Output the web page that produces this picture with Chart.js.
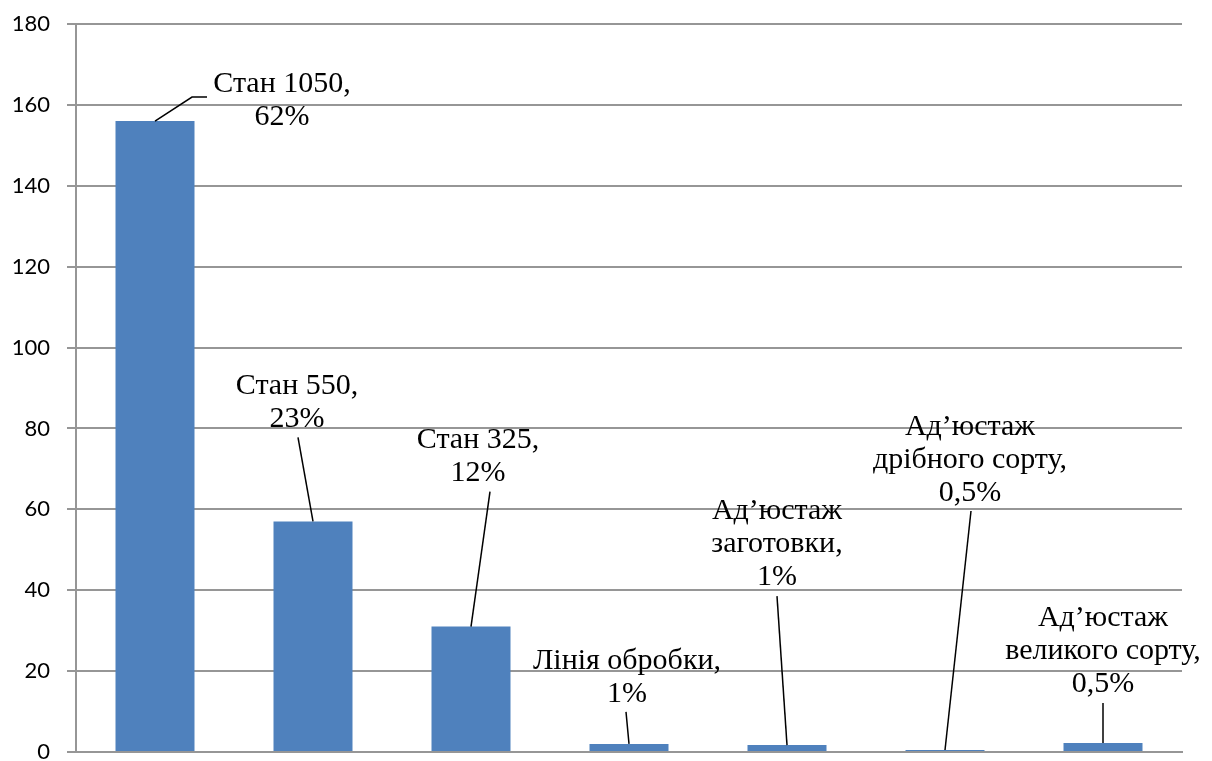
<!DOCTYPE html>
<html>
<head>
<meta charset="utf-8">
<script src="https://cdn.jsdelivr.net/npm/chart.js@4.4.1/dist/chart.umd.min.js"></script>
<style>
  html, body { margin: 0; padding: 0; background: #fff; }
  canvas { display: block; }
</style>
</head>
<body>
<canvas id="chart" width="1212" height="761"></canvas>
<script>
// Дані діаграми
const categories = ['Стан 1050', 'Стан 550', 'Стан 325', 'Лінія обробки', 'Ад’юстаж заготовки', 'Ад’юстаж дрібного сорту', 'Ад’юстаж великого сорту'];
const values = [156, 57, 31, 2, 1.7, 0.5, 2.2];
const shares = ['62%', '23%', '12%', '1%', '1%', '0,5%', '0,5%'];
const labelLines = [
    ['Стан 1050,'],
    ['Стан 550,'],
    ['Стан 325,'],
    ['Лінія обробки,'],
    ['Ад’юстаж', 'заготовки,'],
    ['Ад’юстаж', 'дрібного сорту,'],
    ['Ад’юстаж', 'великого сорту,']
];
const yTicks = [0, 20, 40, 60, 80, 100, 120, 140, 160, 180];

// Розміщення підписів відносно верху стовпця (пікселі)
const labelPos = [
    { dx: 127, dy: -4, leader: [[37, -24], [52, -24]] },
    { dx: -16, dy: -102, leader: [[-15, -84]] },
    { dx: 7, dy: -153, leader: [[19, -135]] },
    { dx: -2, dy: -50, leader: [[-3, -32]] },
    { dx: -10, dy: -168, leader: [[-10, -149]] },
    { dx: 25, dy: -257, leader: [[26, -239]] },
    { dx: 0, dy: -59, leader: [[0, -40]] }
];

const lineHeight = 33;

const labelPlugin = {
    id: 'leaderLabels',
    afterDatasetsDraw(chart) {
        const ctx = chart.ctx;
        const meta = chart.getDatasetMeta(0);
        ctx.save();
        meta.data.forEach((bar, i) => {
            const p = labelPos[i];
            const x0 = bar.x, y0 = bar.y;
            // лінія-виноска
            ctx.strokeStyle = '#000';
            ctx.lineWidth = 1.5;
            ctx.beginPath();
            ctx.moveTo(x0, y0);
            p.leader.forEach(pt => ctx.lineTo(x0 + pt[0], y0 + pt[1]));
            ctx.stroke();
            // текст
            const lines = labelLines[i].concat([shares[i]]);
            ctx.fillStyle = '#000';
            ctx.font = '30px "Liberation Serif", "Times New Roman", serif';
            ctx.textAlign = 'center';
            ctx.textBaseline = 'middle';
            const lastY = y0 + p.dy;
            lines.forEach((t, k) => {
                const ly = lastY - (lines.length - 1 - k) * lineHeight;
                ctx.fillText(t, x0 + p.dx, ly);
            });
        });
        ctx.restore();
    }
};

new Chart(document.getElementById('chart').getContext('2d'), {
    type: 'bar',
    data: {
        labels: categories,
        datasets: [{
            data: values,
            backgroundColor: '#4f81bd',
            borderWidth: 0,
            barPercentage: 0.5,
            categoryPercentage: 1.0
        }]
    },
    options: {
        responsive: false,
        animation: false,
        layout: { padding: { top: 24, right: 30, bottom: 9, left: 0 } },
        plugins: {
            legend: { display: false },
            tooltip: { enabled: false }
        },
        scales: {
            x: {
                ticks: { display: false },
                grid: { display: false },
                border: { display: true, color: '#969696', width: 2 },
                afterFit(scale) {
                    scale.height = 0;
                }
            },
            y: {
                min: 0,
                max: 180,
                afterBuildTicks(scale) {
                    scale.ticks = yTicks.map(v => ({ value: v }));
                },
                afterFit(scale) {
                    scale.width = 76;
                    scale.paddingTop = 0;
                    scale.paddingBottom = 0;
                },
                ticks: {
                    padding: 17,
                    color: '#000',
                    font: { family: 'Lato, "Open Sans", sans-serif', size: 22 }
                },
                grid: { color: '#969696', lineWidth: 2, tickLength: 9 },
                border: { display: true, color: '#969696', width: 2 }
            }
        }
    },
    plugins: [labelPlugin]
});
</script>
</body>
</html>
